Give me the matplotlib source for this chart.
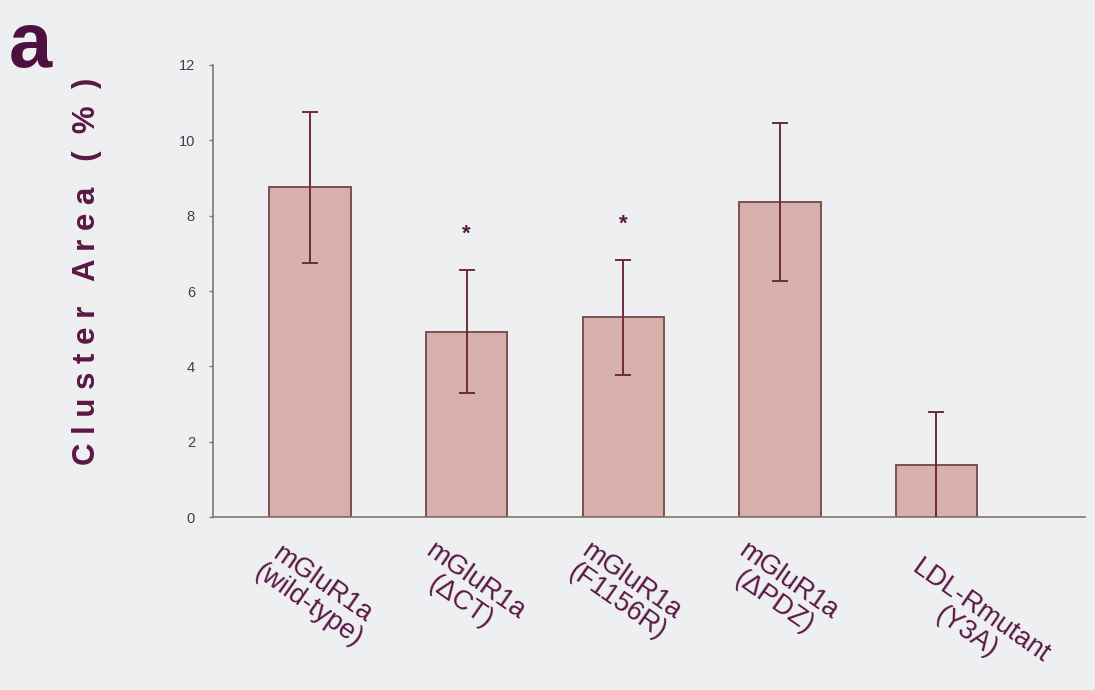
import numpy as np
import matplotlib.pyplot as plt
from matplotlib.transforms import offset_copy

plt.rcParams['font.family'] = ['Liberation Sans', 'DejaVu Sans']

# cluster area per construct, mean and error
constructs = ['mGluR1a\n(wild-type)', 'mGluR1a\n(\u0394CT)', 'mGluR1a\n(F1156R)',
              'mGluR1a\n(\u0394PDZ)', 'LDL-Rmutant\n(Y3A)']
area = [8.75, 4.92, 5.3, 8.37, 1.37]
err = [2.0, 1.63, 1.53, 2.1, 1.43]
signif = [False, True, True, False, False]

bg = '#eeeff1'
text_col = '#5a1845'
bar_face = '#d7b0ab'
bar_edge = '#7a5052'
err_col = '#6e2a40'
axis_col = '#8a7468'

fig = plt.figure(figsize=(10.95, 6.9), dpi=100, facecolor=bg)
ax = fig.add_axes([0.1945, 0.2507, 0.7965, 0.6551])
ax.set_facecolor(bg)

x = np.arange(len(area))
ax.bar(x, area, width=0.52, color=bar_face, edgecolor=bar_edge, linewidth=1.4, zorder=2)
ax.errorbar(x, area, yerr=err, fmt='none', ecolor=err_col, elinewidth=1.4,
            capsize=6, capthick=1.4, zorder=3)
for xi, m, e, s in zip(x, area, err, signif):
    if s:
        ax.text(xi, m + e + 0.95, '*', ha='center', va='center', fontsize=16,
                color=text_col, fontweight='bold')

ax.set_xlim(-0.62, 4.95)
ax.set_ylim(0, 12)
ax.set_yticks(range(0, 13, 2))
ax.tick_params(axis='y', length=3, width=1, color=axis_col, labelsize=10.5,
               labelcolor='#4a3a48', pad=10)
ax.set_xticks(x)
ax.set_xticklabels([])
ax.tick_params(axis='x', length=0)
for side in ['top', 'right']:
    ax.spines[side].set_visible(False)
for side in ['left', 'bottom']:
    ax.spines[side].set_color(axis_col)
    ax.spines[side].set_linewidth(1.2)

# rotated category labels, the long last one sits a bit lower
nudge = [0, 0, 0, 0, 12]
for xi, lab, n in zip(x, constructs, nudge):
    tr = offset_copy(ax.transData, fig=fig, x=n, y=-n, units='points')
    ax.text(xi - 0.2, -0.55, lab, rotation=-35, rotation_mode='anchor',
            ha='left', va='top', fontsize=19.5, color=text_col,
            multialignment='center', linespacing=0.95, transform=tr)

fig.text(0.079, 0.606, 'C l u s t e r   A r e a   (  %  )', rotation=90,
         ha='center', va='center', fontsize=22.5, fontweight='bold', color=text_col)
fig.text(0.008, 0.985, 'a', ha='left', va='top', fontsize=56, fontweight='bold',
         color='#4e1040')

fig.savefig('out.png', dpi=100, facecolor=bg)
